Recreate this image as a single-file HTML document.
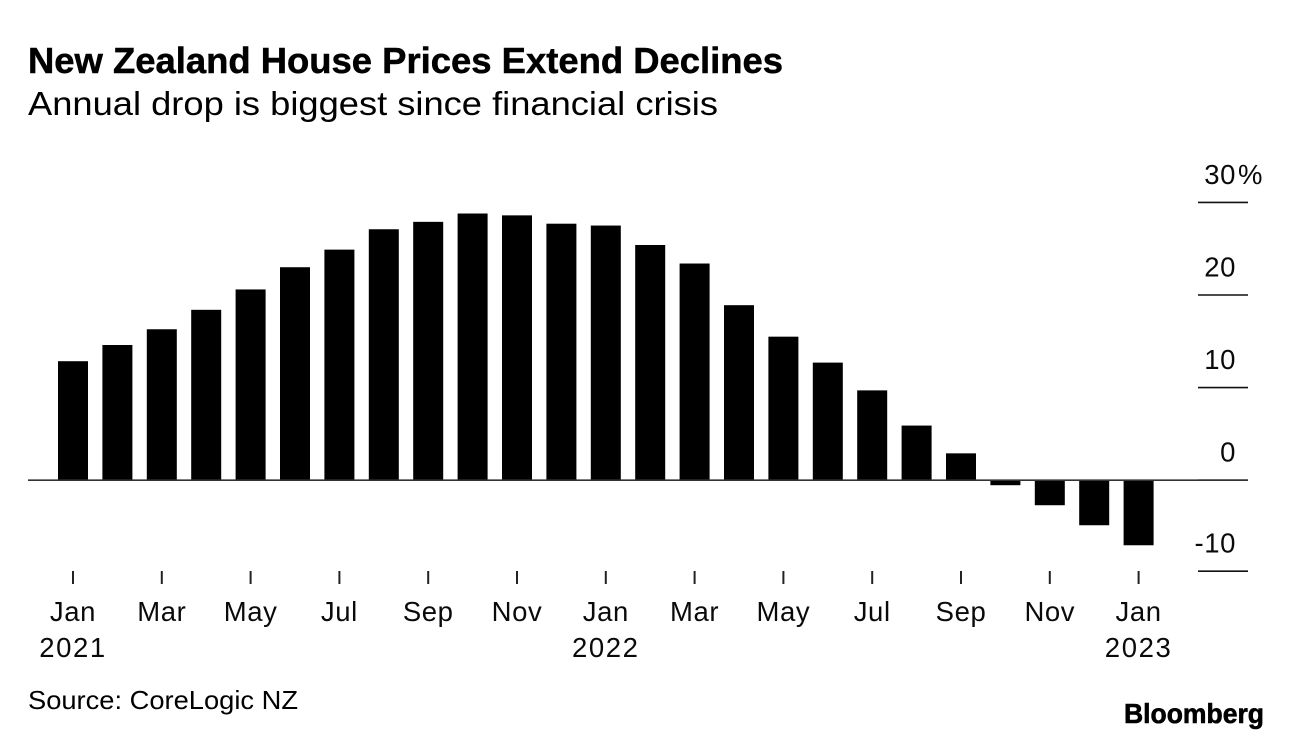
<!DOCTYPE html>
<html lang="en">
<head>
<meta charset="utf-8">
<title>New Zealand House Prices Extend Declines</title>
<style>
  html, body { margin: 0; padding: 0; background: #fff; }
  body { width: 1292px; height: 740px; overflow: hidden; }
  svg { display: block; }
  text { font-family: "Liberation Sans", sans-serif; fill: #000; }
  .axis-text { font-size: 27.5px; fill: #0a0a0a; }
</style>
</head>
<body>
<svg id="chart" xmlns="http://www.w3.org/2000/svg" width="1292" height="740" viewBox="0 0 1292 740">
  <rect x="0" y="0" width="1292" height="740" fill="#fff"/>
  <text x="28" y="73" font-size="36" font-weight="700" stroke="#000" stroke-width="0.5" textLength="755" lengthAdjust="spacingAndGlyphs">New Zealand House Prices Extend Declines</text>
  <text x="28" y="115" font-size="33" textLength="690" lengthAdjust="spacingAndGlyphs">Annual drop is biggest since financial crisis</text>
  <g id="bars"></g>
  <g id="y-axis"></g>
  <g id="x-axis"></g>
  <text x="28" y="709" font-size="26" textLength="270" lengthAdjust="spacingAndGlyphs">Source: CoreLogic NZ</text>
  <text x="1124" y="723" font-size="28" font-weight="700" stroke="#000" stroke-width="0.6" textLength="140" lengthAdjust="spacingAndGlyphs">Bloomberg</text>
</svg>
<script>
const months = ["Jan 2021","Feb 2021","Mar 2021","Apr 2021","May 2021","Jun 2021","Jul 2021","Aug 2021","Sep 2021","Oct 2021","Nov 2021","Dec 2021","Jan 2022","Feb 2022","Mar 2022","Apr 2022","May 2022","Jun 2022","Jul 2022","Aug 2022","Sep 2022","Oct 2022","Nov 2022","Dec 2022","Jan 2023"];
const annualChange = [12.85,14.6,16.3,18.4,20.6,23.0,24.9,27.1,27.9,28.8,28.6,27.7,27.5,25.4,23.4,18.9,15.5,12.7,9.7,5.9,2.9,-0.55,-2.75,-4.95,-7.15];
const yTicks = [30,20,10,0,-10];
const yTickLabels = ["30","20","10","0","-10"];
const xTickMonths = ["Jan","Mar","May","Jul","Sep","Nov","Jan","Mar","May","Jul","Sep","Nov","Jan"];
const xTickYears = ["2021","","","","","","2022","","","","","","2023"];

const NS = "http://www.w3.org/2000/svg";
function xPos(i) { return 73 + i * 44.4; }
function yPos(v) { return 480.2 - v * (v >= 0 ? 9.26 : 9.1); }
function make(tag, parent, attrs) {
  const el = document.createElementNS(NS, tag);
  for (const k in attrs) el.setAttribute(k, attrs[k]);
  parent.appendChild(el);
  return el;
}

const barsG = document.getElementById("bars");
const yG = document.getElementById("y-axis");
const xG = document.getElementById("x-axis");
const BAR_W = 30;

annualChange.forEach(function (v, i) {
  const y0 = yPos(0), y1 = yPos(v);
  const bar = make("rect", barsG, {
    x: xPos(i) - BAR_W / 2,
    y: Math.min(y0, y1),
    width: BAR_W,
    height: Math.abs(y1 - y0),
    fill: "#000"
  });
  
  
});

yTicks.forEach(function (t, i) {
  const y = yPos(t);
  const grid = make("line", yG, { x1: 1198, x2: 1248, y1: y, y2: y, stroke: "#111", "stroke-width": 1.6 });
  
  
  const label = make("text", yG, { x: 1236, y: y - 18.5, "text-anchor": "end", "class": "axis-text", "letter-spacing": "0.6" });
  label.textContent = yTickLabels[i];
  
  
  if (i === 0) {
    const pct = make("text", yG, { x: 1238, y: y - 18.5, "class": "axis-text" });
    pct.textContent = "%";
    
    
  }
});

const zeroLine = make("line", yG, { x1: 28, x2: 1248, y1: yPos(0), y2: yPos(0), stroke: "#333", "stroke-width": 1.6 });



xTickMonths.forEach(function (m, i) {
  const x = xPos(i * 2);
  const tick = make("line", xG, { x1: x, x2: x, y1: 571, y2: 584, stroke: "#222", "stroke-width": 2 });
  
  
  const label = make("text", xG, { x: x, y: 621, "text-anchor": "middle", "class": "axis-text", "letter-spacing": "0.6" });
  label.textContent = m;
  
  
  if (xTickYears[i]) {
    const year = make("text", xG, { x: x, y: 657, "text-anchor": "middle", "class": "axis-text", "letter-spacing": "1.6" });
    year.textContent = xTickYears[i];
    
    
  }
});
</script>
</body>
</html>
